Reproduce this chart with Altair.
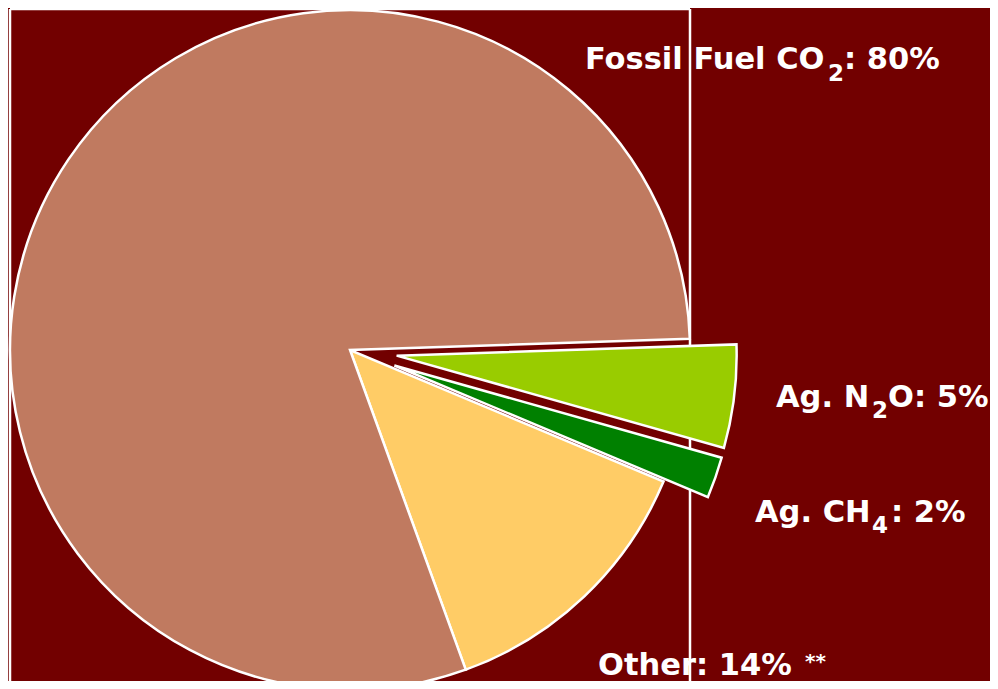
import math
import altair as alt
import pandas as pd

# ---- data ----
categories = ["Ag. N2O", "Ag. CH4", "Other", "Fossil Fuel CO2"]
shares = [4.9, 1.95, 13.15, 80.0]          # slice sizes (% of circle)
label_main = ["Ag. N", "Ag. CH", "Other: 14%", "Fossil Fuel CO"]
label_sub = ["2", "4", "", "2"]
label_rest = ["O: 5%", ": 2%", "", ": 80%"]
footnote = "**"

# ---- styling ----
colors = ["#99CC00", "#008000", "#FFCC66", "#C07A60"]
explode = [47, 47, 0, 0]                    # px pulled out from the centre
BG = "#720000"
START = math.radians(88.1)                  # angle where the first slice starts
CX, CY, R = 342, 342, 340
W, H = 982, 673
FONT = "DejaVu Sans"
FS, FS_SUB = 30.5, 23
# (x main, baseline main, x sub, baseline sub, x rest)
label_pos = [
    (768, 399, 864, 410, 880),
    (747, 514, 864, 525, 883),
    (590, 667, 0, 0, 0),
    (577, 61, 820, 73, 836),
]

df = pd.DataFrame({
    "cat": categories,
    "share": shares,
    "explode": explode,
    "order": list(range(len(categories))),
})

base = alt.Chart(df).transform_window(
    cum="sum(share)", sort=[alt.SortField("order")], frame=[None, 0]
).transform_calculate(
    start="datum.cum - datum.share",
    ang=f"{START} + 2*PI*(datum.cum - datum.share/2)/100",
).transform_calculate(
    cx=f"{CX} + datum.explode*sin(datum.ang)",
    cy=f"{CY} - datum.explode*cos(datum.ang)",
)

pie = base.mark_arc(outerRadius=R, stroke="white", strokeWidth=2.5).encode(
    theta=alt.Theta("start:Q", scale=alt.Scale(domain=[0, 100], range=[START, START + 2 * math.pi])),
    theta2="cum:Q",
    x=alt.X("cx:Q", scale=None),
    y=alt.Y("cy:Q", scale=None),
    color=alt.Color("cat:N", scale=alt.Scale(domain=categories, range=colors), legend=None),
)

one = pd.DataFrame({"k": [0]})
frame = alt.layer(
    alt.Chart(one).mark_rule(color="white", strokeWidth=2.5).encode(
        x=alt.value(2), y=alt.value(1), y2=alt.value(H)),
    alt.Chart(one).mark_rule(color="white", strokeWidth=2.5).encode(
        x=alt.value(2), x2=alt.value(682), y=alt.value(1)),
    alt.Chart(one).mark_rule(color="white", strokeWidth=2.5).encode(
        x=alt.value(682), y=alt.value(1), y2=alt.value(H)),
)


def txt(s, x, y, size):
    return alt.Chart(one).mark_text(
        font=FONT, fontWeight="bold", fontSize=size, color="white",
        align="left", baseline="alphabetic",
    ).encode(x=alt.value(x), y=alt.value(y), text=alt.value(s))


texts = []
for main, sub, rest, (xm, ym, xs, ys, xr) in zip(label_main, label_sub, label_rest, label_pos):
    texts.append(txt(main, xm, ym, FS))
    if sub:
        texts.append(txt(sub, xs, ys, FS_SUB))
    if rest:
        texts.append(txt(rest, xr, ym, FS))
texts.append(txt(footnote, 797, 660, 20))

chart = alt.layer(frame, pie, *texts).properties(
    width=W, height=H, background=BG, padding=0,
    autosize=alt.AutoSizeParams(type="none"),
).configure_view(stroke=None)

chart.save("out.html", embed_options={"renderer": "svg", "actions": False})
